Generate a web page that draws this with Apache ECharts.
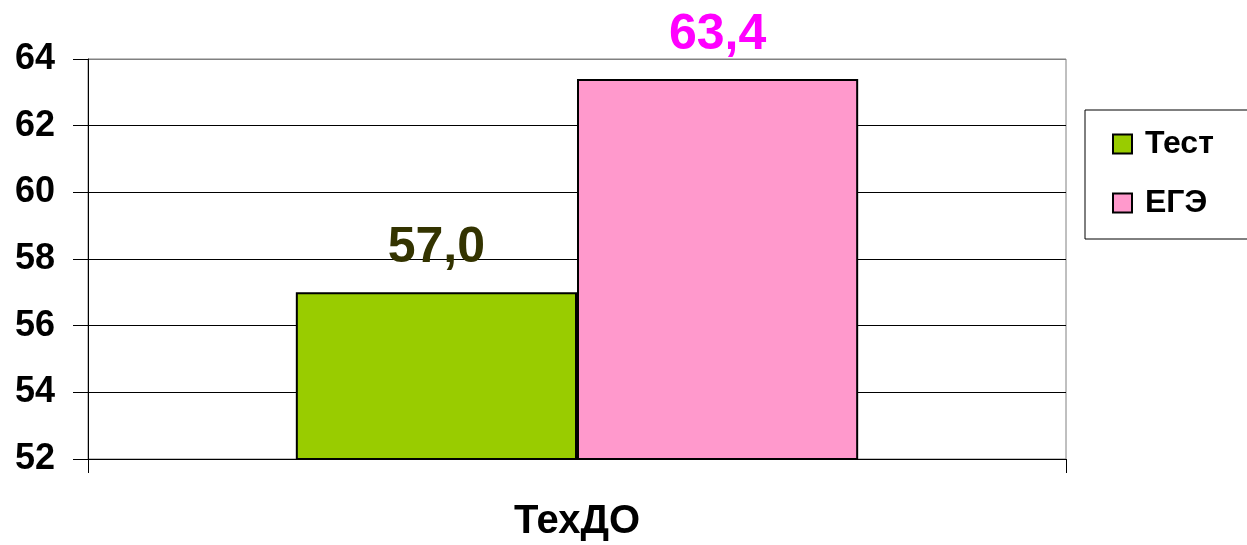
<!DOCTYPE html>
<html><head><meta charset="utf-8">
<script src="https://cdn.jsdelivr.net/npm/echarts@6/dist/echarts.min.js"></script>
<style>html,body{margin:0;padding:0;background:#fff}#c{width:1247px;height:545px}</style>
</head><body><div id="c"></div>
<script>
const categories = ['ТехДО'];
const seriesNames = ['Тест', 'ЕГЭ'];
const testValues = [57.0];
const egeValues = [63.4];
const yTicks = { min: 52, max: 64, step: 2 };

const FONT = '"Liberation Sans", Arial, sans-serif';
const chart = echarts.init(document.getElementById('c'));
chart.setOption({
  animation: false,
  backgroundColor: '#fff',
  textStyle: { fontFamily: FONT },
  grid: { left: 88, right: 181, top: 59, bottom: 86, show: true, borderColor: '#808080', borderWidth: 1 },
  legend: {
    orient: 'vertical', left: 1085, top: 110,
    padding: [18, 80, 20, 27], itemGap: 27,
    itemWidth: 19, itemHeight: 19, icon: 'rect',
    backgroundColor: '#fff', borderColor: '#000', borderWidth: 1,
    textStyle: { fontFamily: FONT, fontSize: 32, fontWeight: 'bold', color: '#000', lineHeight: 30, padding: [0, 0, 0, 8] },
    data: seriesNames
  },
  xAxis: {
    type: 'category', data: categories,
    axisLine: { lineStyle: { color: '#000', width: 1 } },
    axisTick: { show: true, length: 14, lineStyle: { color: '#000' } },
    axisLabel: { margin: 43, fontFamily: FONT, fontSize: 40, fontWeight: 'bold', color: '#000' }
  },
  yAxis: {
    type: 'value', min: yTicks.min, max: yTicks.max, interval: yTicks.step,
    axisLine: { show: true, lineStyle: { color: '#000', width: 1 } },
    axisTick: { show: true, length: 15, lineStyle: { color: '#000' } },
    axisLabel: { margin: 33, fontFamily: FONT, fontSize: 36, fontWeight: 'bold', color: '#000' },
    splitLine: { show: true, lineStyle: { color: ['#000','#000','#000','#000','#000','#000','#808080'], width: 1 } }
  },
  series: [
    {
      name: seriesNames[0], type: 'bar', data: testValues,
      barGap: '0%', barCategoryGap: '42.5%',
      itemStyle: { color: '#99CC00', borderColor: '#000', borderWidth: 2 },
      label: { show: true, position: 'top', distance: 19, fontFamily: FONT, fontSize: 50, fontWeight: 'bold', color: '#333300',
        formatter: p => p.value.toFixed(1).replace('.', ',') }
    },
    {
      name: seriesNames[1], type: 'bar', data: egeValues,
      barGap: '0%', barCategoryGap: '42.5%',
      itemStyle: { color: '#FF99CC', borderColor: '#000', borderWidth: 2 },
      label: { show: true, position: 'top', distance: 19, fontFamily: FONT, fontSize: 50, fontWeight: 'bold', color: '#FF00FF',
        formatter: p => p.value.toFixed(1).replace('.', ',') }
    }
  ]
});
</script></body></html>
